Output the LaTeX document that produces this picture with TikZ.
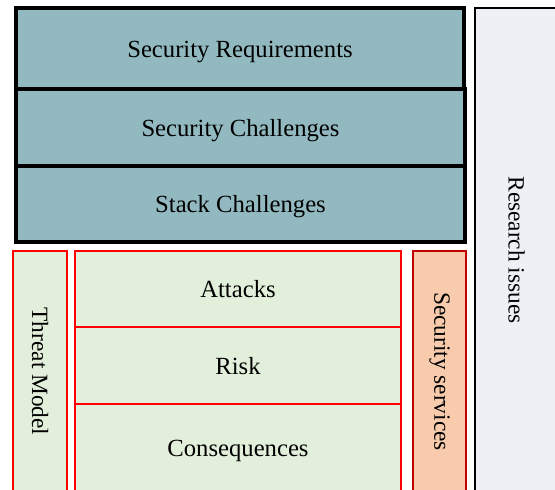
\documentclass[tikz,border=0pt]{standalone}
\usepackage{fontspec}
\setmainfont{Liberation Serif}
\usepackage{tikz}
\usetikzlibrary{shapes, positioning}
\definecolor{tealfill}{RGB}{147,185,192}
\definecolor{greenfill}{RGB}{226,239,218}
\definecolor{peachfill}{RGB}{248,203,173}
\definecolor{issuefill}{RGB}{238,240,246}
\definecolor{darkred}{RGB}{192,0,0}
\tikzstyle{layer} = [draw=black, fill=tealfill, line width=2.4pt, rectangle, inner sep=0pt, text height=14pt, text depth=1pt, font=\fontsize{18.5}{22}\selectfont]
\tikzstyle{threat} = [draw=red, fill=greenfill, line width=2pt, rectangle, inner sep=0pt, text height=14pt, text depth=1pt, font=\fontsize{18.5}{22}\selectfont]
\tikzstyle{service} = [draw=darkred, fill=peachfill, line width=2pt, rectangle, inner sep=0pt]
\tikzstyle{issues} = [draw=black, fill=issuefill, line width=2pt, rectangle, inner sep=0pt]
\tikzstyle{sidetext} = [rotate=-90, font=\fontsize{17.5}{21}\selectfont]

\begin{document}
\begin{tikzpicture}[x=0.75pt, y=-0.75pt]
	\clip (0,0) rectangle (555,489);
	% research issues column
	\node [issues, minimum width=83*0.75pt, minimum height=484*0.75pt] (issues) at (516.5,250) {};
	\node [sidetext] at (issues.center) {Research issues};
	% upper layers
	\node [layer, minimum width=448*0.75pt, minimum height=81*0.75pt] (requirements) at (240,48.5) {Security Requirements};
	\node [layer, minimum width=449*0.75pt, minimum height=77*0.75pt] (challenges) at (240.5,127.5) {Security Challenges};
	\node [layer, minimum width=449*0.75pt, minimum height=76*0.75pt] (stack) at (240.5,204) {Stack Challenges};
	% threat model
	\node [threat, minimum width=54*0.75pt, minimum height=241*0.75pt] (threat) at (40,371.5) {};
	\node [sidetext] at (threat.center) {Threat Model};
	\node [threat, minimum width=326*0.75pt, minimum height=76*0.75pt] (attacks) at (238,289) {Attacks};
	\node [threat, minimum width=326*0.75pt, minimum height=77*0.75pt] (risk) at (238,365.5) {Risk};
	\node [threat, minimum width=326*0.75pt, minimum height=88*0.75pt] (consequences) at (238,448) {Consequences};
	% services
	\node [service, minimum width=53*0.75pt, minimum height=241*0.75pt] (services) at (439.5,371.5) {};
	\node [sidetext] at (services.center) {Security services};
\end{tikzpicture}
\end{document}
